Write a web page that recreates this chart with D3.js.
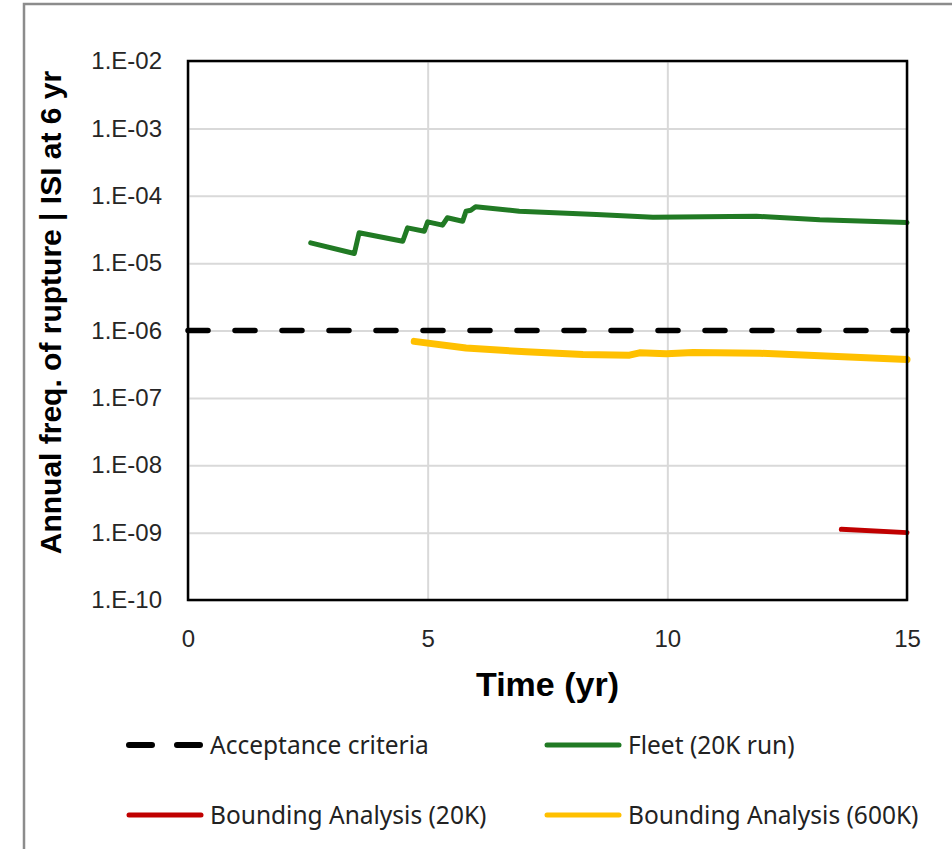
<!DOCTYPE html>
<html>
<head>
<meta charset="utf-8">
<script src="https://cdn.jsdelivr.net/npm/d3@7"></script>
<style>
  body { margin: 0; background: #fff; }
  svg { display: block; }
</style>
</head>
<body>
<svg></svg>
<script>
// data
let fleetT = [2.56, 3.47, 3.57, 4.48, 4.58, 4.93, 5.0, 5.31, 5.41, 5.73, 5.8, 5.9, 6.0, 6.91, 8.52, 9.7, 11.86, 13.18, 15];
let fleetV = [2.0e-5, 1.39e-5, 2.82e-5, 2.11e-5, 3.34e-5, 2.98e-5, 4.1e-5, 3.66e-5, 4.71e-5, 4.19e-5, 5.9e-5, 6.1e-5, 6.86e-5, 5.9e-5, 5.27e-5, 4.8e-5, 4.97e-5, 4.4e-5, 4.0e-5];

let bound600T = [4.72, 5.8, 7.05, 8.24, 9.21, 9.42, 9.98, 10.54, 11.93, 15];
let bound600V = [6.9e-7, 5.5e-7, 4.83e-7, 4.4e-7, 4.3e-7, 4.67e-7, 4.5e-7, 4.7e-7, 4.6e-7, 3.7e-7];

let bound20T = [13.63, 15];
let bound20V = [1.12e-9, 1.0e-9];

let acceptT = [0, 15];
let acceptV = [1e-6, 1e-6];

let xTicks = [0, 5, 10, 15];
let yTicks = [1e-10, 1e-9, 1e-8, 1e-7, 1e-6, 1e-5, 1e-4, 1e-3, 1e-2];

let series = [
  {name: 'Acceptance criteria', t: acceptT, v: acceptV, color: '#000', w: 5.5, dash: '20 27'},
  {name: 'Fleet (20K run)', t: fleetT, v: fleetV, color: '#217a24', w: 5},
  {name: 'Bounding Analysis (20K)', t: bound20T, v: bound20V, color: '#c00000', w: 5},
  {name: 'Bounding Analysis (600K)', t: bound600T, v: bound600V, color: '#ffc000', w: 7}
];

let width = 952;
let height = 849;
let margin = {top: 61, right: 45, bottom: 249, left: 188};

let svg = d3.select('svg')
  .attr('width', width)
  .attr('height', height);

// outer chart border (runs off the right and bottom of the picture)
svg.append('rect')
  .attr('x', 24).attr('y', 4)
  .attr('width', 1000).attr('height', 1000)
  .attr('fill', '#fff')
  .attr('stroke', '#8c8c8c')
  .attr('stroke-width', 2.5);

let x = d3.scaleLinear()
  .domain([0, 15])
  .range([margin.left, width - margin.right]);

let y = d3.scaleLog()
  .domain([1e-10, 1e-2])
  .range([height - margin.bottom, margin.top]);

let fmt = v => '1.E-' + String(Math.round(-Math.log10(v))).padStart(2, '0');

// grid
svg.append('g')
  .attr('transform', `translate(0,${height - margin.bottom})`)
  .call(d3.axisBottom(x).tickValues(xTicks).tickSize(-(height - margin.top - margin.bottom)).tickFormat(''))
  .call(g => g.select('.domain').remove())
  .selectAll('line').attr('stroke', '#d9d9d9').attr('stroke-width', 2);

svg.append('g')
  .attr('transform', `translate(${margin.left},0)`)
  .call(d3.axisLeft(y).tickValues(yTicks).tickSize(-(width - margin.left - margin.right)).tickFormat(''))
  .call(g => g.select('.domain').remove())
  .selectAll('line').attr('stroke', '#d9d9d9').attr('stroke-width', 2);

// tick labels
svg.append('g')
  .attr('transform', `translate(0,${height - margin.bottom})`)
  .call(d3.axisBottom(x).tickValues(xTicks).tickSize(0).tickPadding(30).tickFormat(d3.format('d')))
  .call(g => g.select('.domain').remove())
  .selectAll('text')
    .attr('font-family', 'Liberation Sans, Arial, sans-serif')
    .attr('font-size', 24)
    .attr('fill', '#262626');

svg.append('g')
  .attr('transform', `translate(${margin.left},0)`)
  .call(d3.axisLeft(y).tickValues(yTicks).tickSize(0).tickPadding(26).tickFormat(fmt))
  .call(g => g.select('.domain').remove())
  .selectAll('text')
    .attr('font-family', 'Liberation Sans, Arial, sans-serif')
    .attr('font-size', 24)
    .attr('fill', '#262626');

// lines
let line = d3.line()
  .x(d => x(d[0]))
  .y(d => y(d[1]));

svg.append('g')
  .selectAll('path')
  .data(series)
  .enter()
    .append('path')
    .attr('d', s => line(s.t.map((t, i) => [t, s.v[i]])))
    .attr('fill', 'none')
    .attr('stroke', s => s.color)
    .attr('stroke-width', s => s.w)
    .attr('stroke-dasharray', s => s.dash || null)
    .attr('stroke-linecap', 'round')
    .attr('stroke-linejoin', 'round');

// plot frame
svg.append('rect')
  .attr('x', margin.left).attr('y', margin.top)
  .attr('width', width - margin.left - margin.right)
  .attr('height', height - margin.top - margin.bottom)
  .attr('fill', 'none')
  .attr('stroke', '#000')
  .attr('stroke-width', 2.5);

// axis titles
svg.append('text')
  .attr('x', (x(0) + x(15)) / 2)
  .attr('y', 696)
  .attr('text-anchor', 'middle')
  .attr('font-family', 'Liberation Sans, Arial, sans-serif')
  .attr('font-weight', 'bold')
  .attr('font-size', 34)
  .attr('fill', '#000')
  .text('Time (yr)');

svg.append('text')
  .attr('transform', `translate(61,${(y(1e-2) + y(1e-10)) / 2 - 18}) rotate(-90)`)
  .attr('text-anchor', 'middle')
  .attr('font-family', 'Liberation Sans, Arial, sans-serif')
  .attr('font-weight', 'bold')
  .attr('font-size', 30)
  .attr('fill', '#000')
  .text('Annual freq. of rupture  |  ISI at 6 yr');

// legend
let legendPos = [[127, 745], [545, 745], [127, 815], [545, 815]];

let legend = svg.append('g')
  .selectAll('g')
  .data(series)
  .enter()
    .append('g')
    .attr('transform', (s, i) => `translate(${legendPos[i][0]},${legendPos[i][1]})`);

legend.append('line')
  .attr('x1', 2).attr('x2', 74)
  .attr('stroke', s => s.color)
  .attr('stroke-width', s => s.dash ? 6 : 5)
  .attr('stroke-linecap', 'round')
  .attr('stroke-dasharray', s => s.dash ? '23 25' : null);

legend.append('text')
  .attr('x', 83)
  .attr('dy', '0.35em')
  .attr('font-family', 'Noto Sans, sans-serif')
  .attr('font-size', 24.5)
  .attr('fill', '#222')
  .text(s => s.name);
</script>
</body>
</html>
